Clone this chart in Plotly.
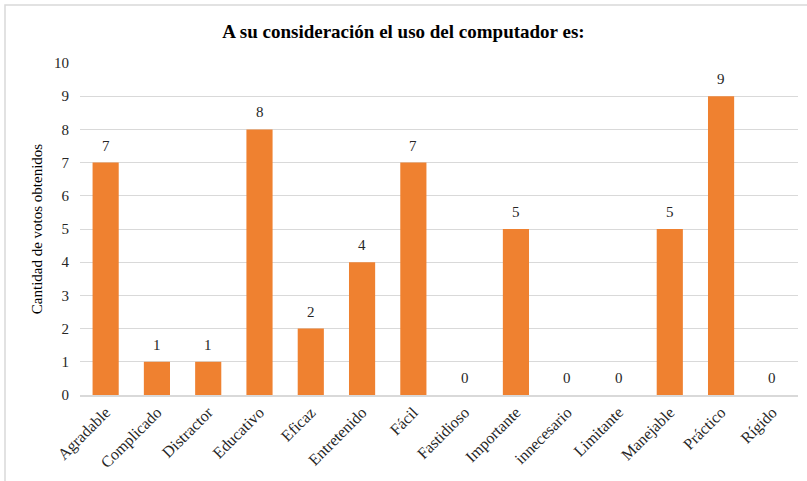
import plotly.graph_objects as go

categories = ["Agradable", "Complicado", "Distractor", "Educativo", "Eficaz", "Entretenido",
              "Fácil", "Fastidioso", "Importante", "innecesario", "Limitante", "Manejable",
              "Práctico", "Rígido"]
votes = [7, 1, 1, 8, 2, 4, 7, 0, 5, 0, 0, 5, 9, 0]

font_family = "Liberation Serif, Times New Roman, serif"

fig = go.Figure()
fig.add_trace(go.Bar(
    x=categories, y=votes,
    marker=dict(color="#EF8130", line=dict(width=0)),
))

for c, v in zip(categories, votes):
    fig.add_annotation(x=c, y=v, text=str(v), showarrow=False, yanchor="bottom",
                       yshift=7, font=dict(family=font_family, size=15, color="#262626"))

fig.update_layout(
    width=807, height=481,
    margin=dict(l=80, r=9, t=63, b=86),
    paper_bgcolor="white", plot_bgcolor="white",
    bargap=0.49,
    showlegend=False,
    title=dict(text="<b>A su consideración el uso del computador es:</b>",
               x=0.5, xanchor="center", y=0.935, yanchor="middle",
               font=dict(family=font_family, size=19, color="black")),
    xaxis=dict(tickangle=-45, tickfont=dict(family=font_family, size=16, color="#262626"),
               showline=True, linecolor="#D9D9D9", linewidth=1.5, ticks="", showgrid=False),
    yaxis=dict(range=[0, 10], dtick=1, showgrid=True, gridcolor="#D9D9D9", gridwidth=1,
               zeroline=False, ticks="", ticklabelstandoff=10,
               tickfont=dict(family=font_family, size=15, color="#262626"),
               title=dict(text="Cantidad de votos obtenidos", standoff=7,
                          font=dict(family=font_family, size=15, color="black"))),
    shapes=[dict(type="rect", xref="paper", yref="paper",
                 x0=(5 - 80) / 718, x1=1.05, y0=-0.3, y1=(395 - 5) / 332,
                 line=dict(color="#D9D9D9", width=1.5), fillcolor="rgba(0,0,0,0)", layer="below")],
)

fig.write_html("out.html")
